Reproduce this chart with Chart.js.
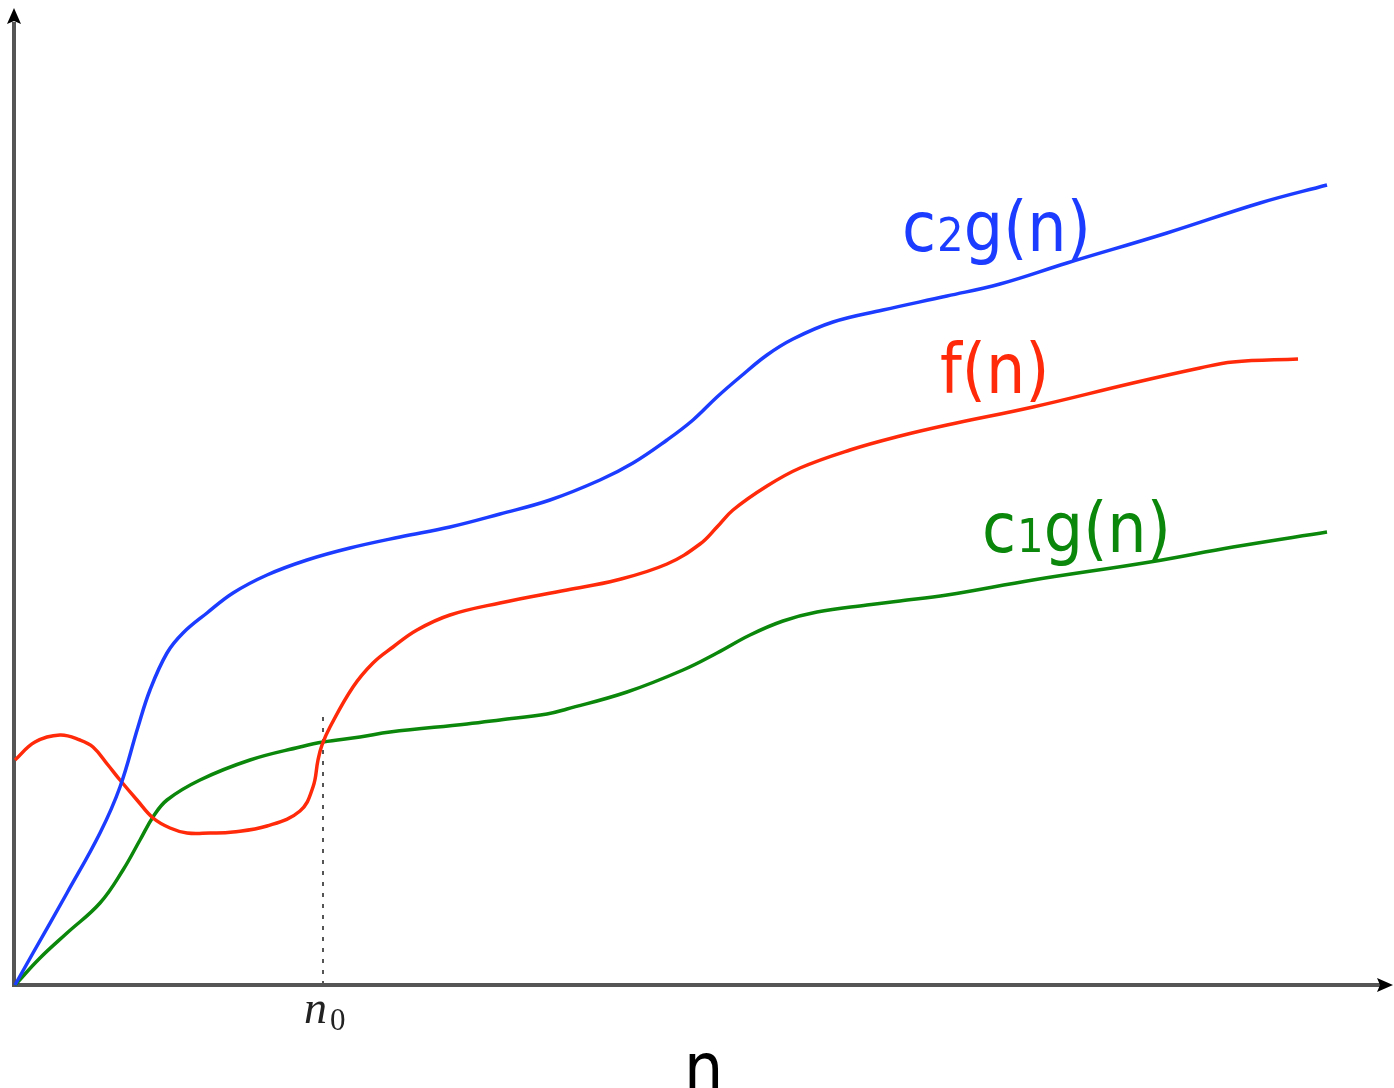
<!DOCTYPE html>
<html><head><meta charset="utf-8">
<script src="https://cdn.jsdelivr.net/npm/chart.js@4.4.1/dist/chart.umd.min.js"></script>
<style>html,body{margin:0;padding:0;background:#fff;overflow:hidden}canvas{display:block}</style>
</head><body>
<canvas id="c" width="1394" height="1088"></canvas>
<script>
// Data values (x = n, y = value)
const c2gX = [1,19,53,86,106,124,136,153,169,193,219,253,293,336,386,436,486,536,586,619,653,679,703,726,753,779,819,869,933,986,1053,1153,1246,1313];
const c2gY = [0,32,92,152,198,258,295,332,352,372,392,410,425,437,448,458,471,485,505,522,545,565,588,608,630,646,663,675,689,701,722,752,782,800];
const fX = [1,21,46,66,79,94,106,123,139,156,173,196,219,253,286,299,304,308,316,339,359,379,403,436,486,553,603,653,686,703,719,753,786,836,886,933,1019,1119,1186,1219,1284];
const fY = [225,243,250,245,238,220,205,185,167,157,152,152,153,159,174,198,225,240,258,298,322,338,355,370,382,395,405,421,441,458,475,499,517,535,549,560,578,602,617,623,626];
const c1gX = [1,26,53,86,109,126,139,153,186,236,286,309,346,376,453,486,533,553,613,669,703,736,769,803,853,886,933,1019,1136,1219,1313];
const c1gY = [0,27,52,82,115,145,168,185,205,225,238,243,248,253,261,265,271,276,293,315,332,350,364,373,380,384,390,405,423,438,453];
const n0X = 309;          // n0 position on the n axis
const n0Y = [0, 273];     // extent of the dotted guide
const seriesNames = [
  {main:'c', sub:'2', rest:'g(n)'},
  {main:'f(n)', sub:'', rest:''},
  {main:'c', sub:'1', rest:'g(n)'}
];
const labelPos = [[888,734],[926,592],[968,433]];
const xTitle = 'n';
const n0Label = {main:'n', sub:'0'};

const COLORS = ['#1c3cff', '#ff2a0a', '#0b870b'];
const pts = (xs, ys) => xs.map((x, i) => ({x, y: ys[i]}));

const overlay = {
  id: 'overlay',
  beforeDatasetsDraw(chart) {
    const {ctx, chartArea: a} = chart;
    ctx.save();
    ctx.strokeStyle = '#555';
    ctx.lineWidth = 4;
    ctx.beginPath();
    ctx.moveTo(a.left, a.bottom + 2);
    ctx.lineTo(a.left, a.top + 10);
    ctx.moveTo(a.left - 2, a.bottom);
    ctx.lineTo(1382, a.bottom);
    ctx.stroke();
    ctx.fillStyle = '#000';
    ctx.beginPath();
    ctx.moveTo(a.left, a.top - 4);
    ctx.lineTo(a.left - 7, a.top + 12);
    ctx.lineTo(a.left, a.top + 9);
    ctx.lineTo(a.left + 7, a.top + 12);
    ctx.closePath();
    ctx.fill();
    ctx.beginPath();
    ctx.moveTo(1393, a.bottom);
    ctx.lineTo(1377, a.bottom - 7);
    ctx.lineTo(1380, a.bottom);
    ctx.lineTo(1377, a.bottom + 7);
    ctx.closePath();
    ctx.fill();
    ctx.restore();
  },
  afterDatasetsDraw(chart) {
    const {ctx, scales: {x, y}, chartArea: a} = chart;
    ctx.save();
    const SY = 1.12;
    function drawLabel(lbl, px, py, color, size, subSize) {
      ctx.save();
      ctx.translate(px, py);
      ctx.scale(1, SY);
      ctx.fillStyle = color;
      ctx.textBaseline = 'alphabetic';
      ctx.textAlign = 'left';
      let cx = 0;
      ctx.font = size + 'px "DejaVu Sans"';
      ctx.fillText(lbl.main, cx, 0);
      cx += ctx.measureText(lbl.main).width;
      if (lbl.sub) {
        ctx.font = subSize + 'px "DejaVu Sans"';
        ctx.fillText(lbl.sub, cx + 1, 0);
        cx += ctx.measureText(lbl.sub).width + 1;
      }
      if (lbl.rest) {
        ctx.font = size + 'px "DejaVu Sans"';
        ctx.fillText(lbl.rest, cx, 0);
      }
      ctx.restore();
    }
    seriesNames.forEach((lbl, i) => {
      drawLabel(lbl, x.getPixelForValue(labelPos[i][0]), y.getPixelForValue(labelPos[i][1]), COLORS[i], 62, 42);
    });
    // x-axis title
    ctx.save();
    ctx.translate(684, 1092);
    ctx.scale(1, SY);
    ctx.fillStyle = '#000';
    ctx.font = '62px "DejaVu Sans"';
    ctx.fillText(xTitle, 0, 0);
    ctx.restore();
    // n0 label
    const nx = x.getPixelForValue(n0X);
    ctx.fillStyle = '#222';
    ctx.font = 'italic 46px "Liberation Serif"';
    ctx.fillText(n0Label.main, nx - 19, a.bottom + 38);
    const w = ctx.measureText(n0Label.main).width;
    ctx.font = '31px "Liberation Serif"';
    ctx.fillText(n0Label.sub, nx - 19 + w + 3, a.bottom + 45);
    ctx.restore();
  }
};

new Chart(document.getElementById('c'), {
  type: 'line',
  data: {
    datasets: [
      {label: 'c2g(n)', data: pts(c2gX, c2gY), borderColor: COLORS[0]},
      {label: 'f(n)', data: pts(fX, fY), borderColor: COLORS[1]},
      {label: 'c1g(n)', data: pts(c1gX, c1gY), borderColor: COLORS[2]},
      {label: 'n0', data: pts([n0X, n0X], n0Y), borderColor: '#555', borderWidth: 2, borderDash: [4, 7], tension: 0}
    ]
  },
  options: {
    responsive: false,
    animation: false,
    devicePixelRatio: 1,
    layout: {padding: {left: 14, right: 0, top: 12, bottom: 103}},
    scales: {
      x: {type: 'linear', min: 0, max: 1380, display: false},
      y: {type: 'linear', min: 0, max: 973, display: false}
    },
    elements: {
      point: {radius: 0},
      line: {borderWidth: 3.5, tension: 0.4, fill: false}
    },
    plugins: {legend: {display: false}, tooltip: {enabled: false}},
    clip: false
  },
  plugins: [overlay]
});
</script>
</body></html>
